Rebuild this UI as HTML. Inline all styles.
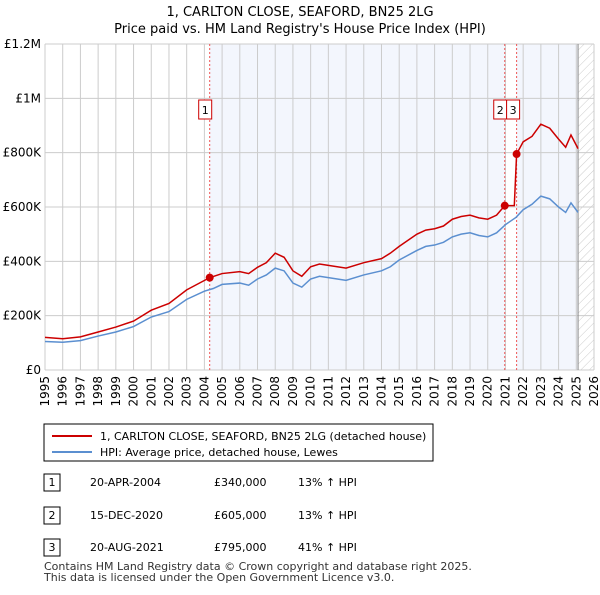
<!DOCTYPE html>
<html><head><meta charset="utf-8"><style>
body{margin:0;background:#fff;font-family:"Liberation Sans","DejaVu Sans",sans-serif;}
svg text{font-family:"DejaVu Sans","Liberation Sans",sans-serif;}
</style></head><body>
<svg id="c" width="600" height="590" xmlns="http://www.w3.org/2000/svg">
<defs><pattern id="hatch" width="6" height="6" patternUnits="userSpaceOnUse" patternTransform="rotate(45)"><line x1="0" y1="0" x2="0" y2="6" stroke="#ccc" stroke-width="1"/></pattern></defs>
<text x="300" y="16" text-anchor="middle" font-size="13">1, CARLTON CLOSE, SEAFORD, BN25 2LG</text>
<text x="300" y="33" text-anchor="middle" font-size="13">Price paid vs. HM Land Registry's House Price Index (HPI)</text>
<g id="plot"></g>
<rect x="44" y="424" width="389" height="37" fill="#fff" stroke="#000" stroke-width="1"/>
<line x1="52" y1="436" x2="92" y2="436" stroke="#cc0000" stroke-width="2"/>
<text x="100" y="440" font-size="11">1, CARLTON CLOSE, SEAFORD, BN25 2LG (detached house)</text>
<line x1="52" y1="452" x2="92" y2="452" stroke="#5b8fd0" stroke-width="2"/>
<text x="100" y="456" font-size="11">HPI: Average price, detached house, Lewes</text>
<g font-size="11">
<rect x="44" y="474" width="16" height="17" fill="#fff" stroke="#000"/><text x="52" y="486" text-anchor="middle">1</text>
<text x="90" y="486">20-APR-2004</text><text x="214" y="486">£340,000</text><text x="298" y="486">13% ↑ HPI</text>
<rect x="44" y="507" width="16" height="17" fill="#fff" stroke="#000"/><text x="52" y="519" text-anchor="middle">2</text>
<text x="90" y="519">15-DEC-2020</text><text x="214" y="519">£605,000</text><text x="298" y="519">13% ↑ HPI</text>
<rect x="44" y="539" width="16" height="17" fill="#fff" stroke="#000"/><text x="52" y="551" text-anchor="middle">3</text>
<text x="90" y="551">20-AUG-2021</text><text x="214" y="551">£795,000</text><text x="298" y="551">41% ↑ HPI</text>
</g>
<text x="44" y="570" font-size="11" fill="#333">Contains HM Land Registry data © Crown copyright and database right 2025.</text>
<text x="44" y="581" font-size="11" fill="#333">This data is licensed under the Open Government Licence v3.0.</text>
</svg>
<script>
const hpiDates=[1995,1996,1997,1998,1999,2000,2001,2002,2003,2004,2004.5,2005,2006,2006.5,2007,2007.5,2008,2008.5,2009,2009.5,2010,2010.5,2011,2012,2013,2014,2014.5,2015,2016,2016.5,2017,2017.5,2018,2018.5,2019,2019.5,2020,2020.5,2021,2021.6,2022,2022.5,2023,2023.5,2024,2024.4,2024.7,2025.1];
const hpiValues=[105,102,108,125,140,160,195,215,260,290,300,315,320,312,335,350,375,365,320,305,335,345,340,330,350,365,380,405,440,455,460,470,490,500,505,495,490,505,535,562,590,610,640,630,600,580,615,580];
const redDates=[1995,1996,1997,1998,1999,2000,2001,2002,2003,2004.3,2005,2006,2006.5,2007,2007.5,2008,2008.5,2009,2009.5,2010,2010.5,2011,2012,2013,2014,2014.5,2015,2016,2016.5,2017,2017.5,2018,2018.5,2019,2019.5,2020,2020.5,2020.96,2021.5,2021.63,2022,2022.5,2023,2023.5,2024,2024.4,2024.7,2025.1];
const redValues=[120,115,122,140,158,180,220,245,295,340,355,362,355,378,395,430,415,365,345,380,390,385,375,395,410,430,455,500,515,520,530,555,565,570,560,555,570,605,605,795,840,860,905,890,850,820,865,815];
const saleDates=[2004.3,2020.96,2021.63];
const saleValues=[340,605,795];
const saleLabels=["1","2","3"];
const yTicks=[0,200,400,600,800,1000,1200];
const yTickLabels=["£0","£200K","£400K","£600K","£800K","£1M","£1.2M"];
const xYears=[];for(let y=1995;y<=2026;y++)xYears.push(y);

const X0=45,X1=594,Y0=370,Y1=44;
const xs=t=>X0+(t-1995)/(2026-1995)*(X1-X0);
const ys=v=>Y0-v/1200*(Y0-Y1);
const NS="http://www.w3.org/2000/svg";
const g=document.getElementById('plot');
function mk(tag,attrs){const e=document.createElementNS(NS,tag);for(const k in attrs)e.setAttribute(k,attrs[k]);g.appendChild(e);return e;}
let e;
e=mk('rect',{x:xs(saleDates[0]),y:Y1,width:xs(saleDates[1])-xs(saleDates[0]),height:Y0-Y1,fill:'#eef2fc',opacity:0.7});


e=mk('rect',{x:xs(saleDates[2]),y:Y1,width:xs(2025.1)-xs(saleDates[2]),height:Y0-Y1,fill:'#eef2fc',opacity:0.7});


e=mk('rect',{x:xs(2025.1),y:Y1,width:X1-xs(2025.1),height:Y0-Y1,fill:'url(#hatch)'});


xYears.forEach(y=>{e=mk('line',{x1:xs(y),x2:xs(y),y1:Y1,y2:Y0,stroke:'#ccc'});


e=mk('text',{x:0,y:0,'font-size':12,'text-anchor':'end',transform:`translate(${xs(y)+4},${Y0+6}) rotate(-90)`});e.textContent=y;

});
yTicks.forEach((v,i)=>{e=mk('line',{x1:X0,x2:X1,y1:ys(v),y2:ys(v),stroke:'#ccc'});


e=mk('text',{x:X0-4,y:ys(v)+4,'font-size':12,'text-anchor':'end'});e.textContent=yTickLabels[i];

});
e=mk('line',{x1:xs(2025.1),x2:xs(2025.1),y1:Y1,y2:Y0,stroke:'#888','stroke-width':1});


saleDates.forEach((d,i)=>{e=mk('line',{x1:xs(d),x2:xs(d),y1:Y1,y2:Y0,stroke:'#e55','stroke-dasharray':'2,2','stroke-width':1});

});
e=mk('polyline',{points:hpiDates.map((d,i)=>xs(d)+','+ys(hpiValues[i])).join(' '),fill:'none',stroke:'#5b8fd0','stroke-width':1.5});


e=mk('polyline',{points:redDates.map((d,i)=>xs(d)+','+ys(redValues[i])).join(' '),fill:'none',stroke:'#cc0000','stroke-width':1.5});


saleDates.forEach((d,i)=>{e=mk('circle',{cx:xs(d),cy:ys(saleValues[i]),r:4,fill:'#cc0000'});


const bx=i==2?xs(d)-10:xs(d)-11;
e=mk('rect',{x:bx,y:100,width:13,height:19,fill:'#fff',stroke:'#cc0000'});


e=mk('text',{x:bx+6.5,y:114,'font-size':11,'text-anchor':'middle'});e.textContent=saleLabels[i];

});
</script>
</body></html>
